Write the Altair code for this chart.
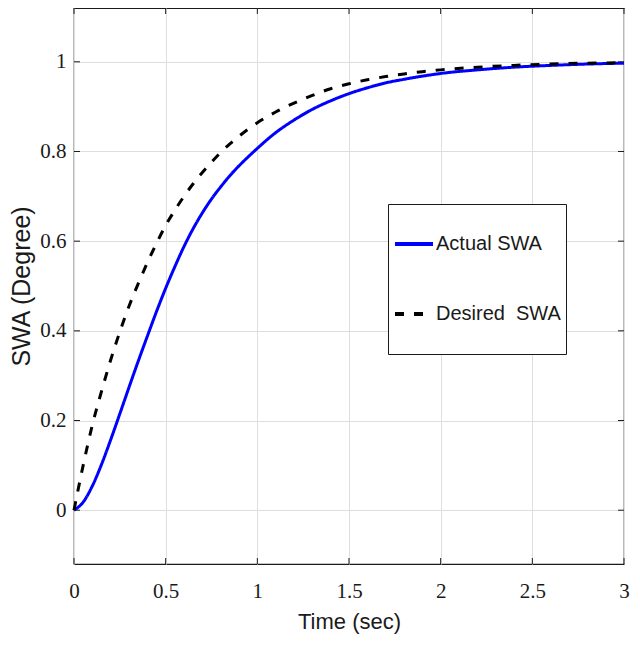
import altair as alt
import pandas as pd

# ---- data ----
time_s = [0, 0.05, 0.1, 0.15, 0.2, 0.25, 0.3, 0.35, 0.4, 0.45, 0.5, 0.55, 0.6, 0.65, 0.7,
          0.75, 0.8, 0.85, 0.9, 0.95, 1.0, 1.1, 1.2, 1.3, 1.4, 1.5, 1.6, 1.7, 1.8, 1.9, 2.0,
          2.2, 2.4, 2.6, 2.8, 3.0]
actual_swa = [0, 0.018, 0.054, 0.102, 0.157, 0.215, 0.274, 0.332, 0.388, 0.443, 0.495, 0.543,
              0.588, 0.628, 0.663, 0.694, 0.721, 0.746, 0.768, 0.788, 0.807, 0.842, 0.870,
              0.894, 0.913, 0.929, 0.942, 0.953, 0.961, 0.968, 0.974, 0.982, 0.988, 0.992,
              0.995, 0.997]
desired_swa = [0, 0.10, 0.19, 0.265, 0.335, 0.398, 0.455, 0.505, 0.552, 0.595, 0.635, 0.669,
               0.700, 0.728, 0.753, 0.776, 0.798, 0.817, 0.834, 0.850, 0.864, 0.888, 0.908,
               0.925, 0.940, 0.951, 0.960, 0.967, 0.973, 0.978, 0.982, 0.988, 0.992, 0.995,
               0.997, 0.998]
series_names = ["Actual SWA", "Desired\u00a0\u00a0SWA"]
x_ticks = [0, 0.5, 1, 1.5, 2, 2.5, 3]
y_ticks = [0, 0.2, 0.4, 0.6, 0.8, 1]
x_domain = [0, 3]
y_domain = [-0.12, 1.12]

rows = []
for t, a, d in zip(time_s, actual_swa, desired_swa):
    rows.append({"t": t, "v": a, "s": series_names[0]})
    rows.append({"t": t, "v": d, "s": series_names[1]})
df = pd.DataFrame(rows)

W, H = 550, 556
xs = alt.Scale(domain=x_domain, nice=False)
ys = alt.Scale(domain=y_domain, nice=False)

x_axis = alt.Axis(title="Time (sec)", values=x_ticks, labelExpr="datum.value",
                  labelFont="Liberation Serif", labelFontSize=21, labelColor="#1a1a1a",
                  labelPadding=16, titleFont="Liberation Sans", titleFontSize=22,
                  titleFontWeight="normal", titleColor="#1a1a1a", titlePadding=10,
                  ticks=False, domain=False, grid=True, gridColor="#dedede",
                  labelFlush=False)
y_axis = alt.Axis(title="SWA (Degree)", values=y_ticks, labelExpr="datum.value",
                  labelFont="Liberation Serif", labelFontSize=21, labelColor="#1a1a1a",
                  labelPadding=8, titleFont="Liberation Sans", titleFontSize=25,
                  titleFontWeight="normal", titleColor="#1a1a1a", titlePadding=5,
                  ticks=False, domain=False, grid=True, gridColor="#dedede",
                  labelFlush=False)

leg = alt.Legend(title=None)

lines = alt.Chart(df).mark_line(strokeWidth=3, interpolate="monotone").encode(
    x=alt.X("t:Q", scale=xs, axis=x_axis),
    y=alt.Y("v:Q", scale=ys, axis=y_axis),
    color=alt.Color("s:N", scale=alt.Scale(domain=series_names, range=["#0000ff", "#000000"]),
                    legend=leg),
    strokeDash=alt.StrokeDash("s:N", scale=alt.Scale(domain=series_names, range=[[1, 0], [9, 10]]),
                              legend=leg),
)

xt = pd.DataFrame({"t": x_ticks})
yt = pd.DataFrame({"v": y_ticks})
tick_bottom = alt.Chart(xt).mark_rule(color="#1a1a1a", strokeWidth=1).encode(
    x=alt.X("t:Q", scale=xs, axis=x_axis), y=alt.value(H), y2=alt.value(H - 6))
tick_top = alt.Chart(xt).mark_rule(color="#1a1a1a", strokeWidth=1).encode(
    x=alt.X("t:Q", scale=xs, axis=x_axis), y=alt.value(0), y2=alt.value(6))
tick_left = alt.Chart(yt).mark_rule(color="#1a1a1a", strokeWidth=1).encode(
    y=alt.Y("v:Q", scale=ys, axis=y_axis), x=alt.value(0), x2=alt.value(6))
tick_right = alt.Chart(yt).mark_rule(color="#1a1a1a", strokeWidth=1).encode(
    y=alt.Y("v:Q", scale=ys, axis=y_axis), x=alt.value(W), x2=alt.value(W - 6))

chart = alt.layer(lines, tick_bottom, tick_top, tick_left, tick_right).properties(
    width=W, height=H,
    padding={"left": 66, "top": 0, "right": 8, "bottom": 72},
    autosize=alt.AutoSizeParams(type="none"),
    background="white",
).configure_view(
    stroke="#1a1a1a", strokeWidth=1.2
).configure_legend(
    orient="none", legendX=314, legendY=196,
    strokeColor="#1a1a1a", fillColor="white", padding=5, cornerRadius=0,
    symbolType="stroke", symbolSize=1444, symbolStrokeWidth=4,
    labelFont="Liberation Sans", labelFontSize=20, labelColor="#1a1a1a", labelOffset=1,
    clipHeight=70, rowPadding=0, labelLimit=300,
)

chart.save("out.html", embed_options={"renderer": "svg", "actions": False})
